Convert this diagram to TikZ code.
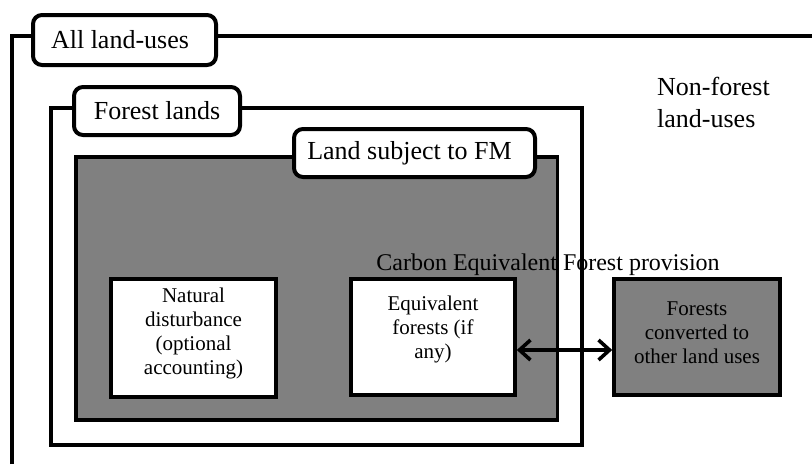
\documentclass[tikz,border=0pt]{standalone}
\usepackage{fontspec}
\setmainfont{Liberation Serif}
\usetikzlibrary{arrows.meta}
\definecolor{midgray}{RGB}{128,128,128}
\tikzset{
  frameline/.style={line width=4pt},
  tagbox/.style={draw, line width=4pt, fill=white, rounded corners=9pt,
    inner sep=0pt, font=\fontsize{26}{32}\selectfont},
  whitebox/.style={draw, line width=3.6pt, fill=white, inner sep=0pt},
  greybox/.style={draw, line width=3.6pt, fill=midgray, inner sep=0pt},
  boxtext/.style={inner sep=0pt, align=center, font=\fontsize{21}{24}\selectfont},
  bigtext/.style={inner sep=0pt, align=left, font=\fontsize{26}{32}\selectfont},
  linkarrow/.style={line width=3.6pt, {Straight Barb[length=11pt,width=20pt]}-{Straight Barb[length=11pt,width=20pt]}}
}
\begin{document}
\begin{tikzpicture}[x=1pt,y=-1pt]
\useasboundingbox[fill=white] (0,0) rectangle (812,464);
% all land-uses frame
\coordinate (allbl) at (12,464);
\coordinate (alltl) at (12,36);
\coordinate (alltr) at (812,36);
\draw[frameline] (allbl) -- (alltl) -- (alltr);
% land subject to FM (grey)
\node[greybox, minimum width=481.5pt, minimum height=263pt] (fm) at (316.75,288.5) {};
% carbon equivalent text
\node[inner sep=0pt, anchor=base, font=\fontsize{24}{28}\selectfont] (cef) at (548,270) {Carbon Equivalent Forest provision};
% forest lands frame
\node[draw, line width=4pt, minimum width=531pt, minimum height=337pt, inner sep=0pt] (fl) at (316.5,276.5) {};
% inner boxes
\node[whitebox, minimum width=165pt, minimum height=118pt] (nd) at (193.5,338) {};
\node[boxtext, anchor=north] (ndt) at (193.5,288) {Natural\\disturbance\\(optional\\accounting)};
\node[whitebox, minimum width=164pt, minimum height=116pt] (eq) at (433,337) {};
\node[boxtext, anchor=north] (eqt) at (433,296) {Equivalent\\forests (if\\any)};
\node[greybox, minimum width=166pt, minimum height=116pt] (conv) at (697,337) {};
\node[boxtext, anchor=north] (convt) at (697,302) {Forests\\converted to\\other land uses};
% arrow
\draw[linkarrow] ([yshift=-13pt]eq.east) -- ([yshift=-13pt]conv.west);
% tags
\node[tagbox, minimum width=183pt, minimum height=50pt] (tagall) at (124.5,40) {All land-uses\hspace*{9pt}};
\node[tagbox, minimum width=166pt, minimum height=48pt] (tagfl) at (157,111) {Forest lands};
\node[tagbox, minimum width=241pt, minimum height=48pt] (tagfm) at (414.5,153) {Land subject to FM\hspace*{10pt}};
% non-forest
\node[bigtext, anchor=north west] (nonf) at (657,77) {Non-forest\\land-uses};
\end{tikzpicture}
\end{document}
